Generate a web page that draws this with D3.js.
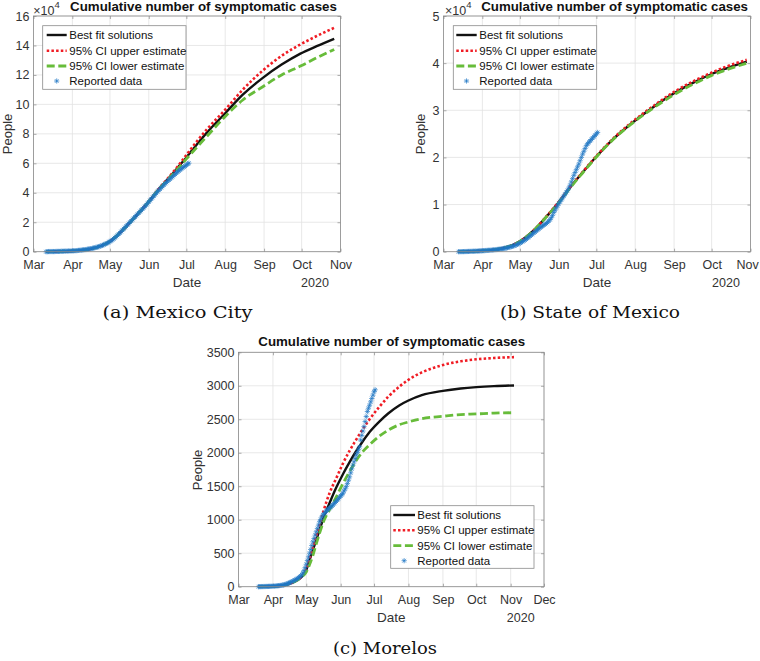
<!DOCTYPE html>
<html><head><meta charset="utf-8">
<script src="https://cdn.jsdelivr.net/npm/d3@7"></script>
<style>body{margin:0;background:#fff}svg{display:block;font-family:"Liberation Sans",Arial,sans-serif}</style>
</head><body>
<svg id="chart" width="760" height="661"></svg>
<script>
// ---------------- DATA ----------------
const chartTitle = "Cumulative number of symptomatic cases";
const monthLabels = ["Mar","Apr","May","Jun","Jul","Aug","Sep","Oct","Nov","Dec"];
const legendLabels = ["Best fit solutions","95% CI upper estimate","95% CI lower estimate","Reported data"];
const yTicksCity = [0,2,4,6,8,10,12,14,16];          // ×10^4
const yTicksState = [0,1,2,3,4,5];                   // ×10^4
const yTicksMorelos = [0,500,1000,1500,2000,2500,3000,3500];
const yearLabel = "2020";

// days counted from 1 March 2020
// (a) Mexico City, values in 10^4 people
const cityFitDay = [10,31,45,53,61,71,82,92,100,108,115,122,130,138,153,167,183,198,213,226,240];
const cityBest   = [0,0.05,0.18,0.37,0.70,1.45,2.45,3.40,4.25,5.00,5.70,6.40,7.25,8.05,9.40,10.66,11.80,12.70,13.45,13.95,14.45];
const cityUpper  = [0,0.05,0.18,0.37,0.70,1.45,2.45,3.40,4.27,5.05,5.78,6.57,7.45,8.27,9.64,11.00,12.30,13.30,14.07,14.64,15.20];
const cityLower  = [0,0.05,0.18,0.37,0.70,1.45,2.45,3.40,4.23,4.95,5.60,6.30,7.05,7.80,9.18,10.30,11.20,12.00,12.60,13.16,13.73];
const cityReportedFirstDay = 10;
const cityReported = [0.00,0.00,0.01,0.01,0.01,0.01,0.01,0.01,0.02,0.02,0.02,0.02,0.03,0.03,0.03,0.04,0.04,0.04,0.05,0.05,0.05,0.06,
 0.06,0.07,0.07,0.08,0.09,0.10,0.11,0.12,0.13,0.14,0.15,0.17,0.18,0.20,0.21,0.23,0.25,0.27,0.29,0.31,0.34,0.37,0.40,0.43,0.47,0.51,0.55,0.59,0.64,
 0.69,0.75,0.81,0.88,0.95,1.03,1.11,1.19,1.28,1.37,1.46,1.55,1.64,1.73,1.82,1.91,2.00,2.09,2.18,2.27,2.36,2.45,2.54,2.63,2.72,2.81,2.90,2.99,3.08,
 3.18,3.28,3.38,3.48,3.58,3.68,3.78,3.88,3.98,4.08,4.17,4.26,4.35,4.44,4.53,4.62,4.70,4.78,4.86,4.94,5.02,5.10,5.18,5.26,5.34,5.42,5.49,5.56,5.63,
 5.70,5.76,5.82,5.88,5.95,6.01];

// (b) State of Mexico, values in 10^4 people
const stateFitDay = [12,31,45,55,61,72,82,92,101,111,122,135,149,167,184,199,214,226,242];
const stateBest   = [0,0.02,0.06,0.14,0.22,0.45,0.740,1.05,1.36,1.68,2.02,2.38,2.70,3.06,3.36,3.58,3.77,3.89,4.03];
const stateUpper  = [0,0.02,0.06,0.14,0.22,0.45,0.745,1.06,1.37,1.69,2.03,2.39,2.72,3.08,3.39,3.61,3.80,3.93,4.07];
const stateLower  = [0,0.02,0.06,0.14,0.22,0.45,0.735,1.04,1.35,1.67,2.01,2.37,2.69,3.04,3.33,3.55,3.74,3.86,4.00];
const stateReportedFirstDay = 12;
const stateReported = [0.000,0.001,0.001,0.002,0.002,0.003,0.004,0.005,0.006,0.007,0.008,0.009,0.010,0.011,0.012,0.013,0.015,0.016,0.018,
 0.020,0.022,0.024,0.026,0.028,0.030,0.032,0.034,0.036,0.039,0.042,0.045,0.048,0.051,0.055,0.059,0.063,0.068,0.073,0.079,0.085,0.091,0.098,
 0.106,0.114,0.123,0.133,0.144,0.156,0.169,0.183,0.198,0.214,0.231,0.249,0.268,0.288,0.309,0.331,0.353,0.375,0.397,0.419,0.441,0.463,0.485,
 0.506,0.526,0.545,0.563,0.581,0.600,0.622,0.648,0.680,0.720,0.770,0.830,0.880,0.930,0.975,1.02,1.06,1.10,1.14,1.18,1.22,1.26,1.30,1.35,1.41,
 1.48,1.55,1.62,1.68,1.74,1.80,1.86,1.93,2.00,2.07,2.13,2.19,2.25,2.29,2.32,2.35,2.38,2.41,2.44,2.47,2.50,2.53];

// (c) Morelos, values in people
const morelosFitDay = [18,31,40,46,52,57,61,64,67,70,73,76,79,82,88,94,100,105,111,118,127,135,145,153,165,184,200,214,230,248];
const morelosBest  = [0,5,20,45,90,150,250,400,550,700,850,1000,1130,1250,1480,1680,1860,2000,2150,2310,2470,2590,2710,2780,2860,2925,2960,2980,2995,3005];
const morelosUpper = [0,5,20,45,90,155,270,420,590,760,930,1100,1260,1400,1620,1840,2030,2170,2330,2500,2690,2840,2990,3090,3200,3310,3365,3395,3415,3428];
const morelosLower = [0,5,20,45,90,145,220,330,470,640,800,950,1060,1150,1340,1540,1720,1860,2000,2120,2250,2340,2420,2460,2510,2545,2570,2580,2592,2598];
const morelosReportedFirstDay = 18;
const morelosReported = [0,1,1,2,2,3,3,4,4,5,6,6,7,8,9,10,12,13,15,17,19,22,25,29,34,39,45,52,60,67,75,83,92,101,110,121,133,146,160,177,
 205,240,285,335,390,445,500,555,615,670,720,770,820,870,920,970,1005,1040,1070,1090,1110,1130,1145,1160,1175,1190,1205,1220,1240,1258,1276,
 1295,1315,1335,1355,1375,1395,1430,1460,1495,1540,1590,1640,1700,1760,1815,1865,1915,1965,2005,2045,2090,2190,2260,2325,2390,2465,2540,2615,
 2665,2710,2760,2810,2860,2910,2940];

const captions = ["(a) Mexico City","(b) State of Mexico","(c) Morelos"];

// ---------------- LAYOUT ----------------
const C = {best:"#111111", upper:"#f01c24", lower:"#67bc3a", data:"#1f77c4", text:"#333333", grid:"#e2e2e2", box:"#8a8a8a"};
const baseDate = Date.UTC(2020,2,1);
const dayToDate = d => new Date(baseDate + d*864e5);

const panels = [
 {fitDay:cityFitDay, best:cityBest, upper:cityUpper, lower:cityLower, repStart:cityReportedFirstDay, rep:cityReported,
  yTicks:yTicksCity, yMax:16, exponent:true, endMonth:"2020-11-01",
  left:33.5, right:340.5, top:16, bottom:251.7, titleX:203.5, titleY:10.5,
  yLabelX:11.5, yLabelY:134, dateY:287, yearX:315, expX:33.3,
  legend:{x:42.7, y:25.7, w:143.3, h:63.6, rows:[35,50.7,66,81], s0:46.7, s1:66.7, tx:69.3},
  caption:captions[0], capX:177.5, capY:318, capW:150},
 {fitDay:stateFitDay, best:stateBest, upper:stateUpper, lower:stateLower, repStart:stateReportedFirstDay, rep:stateReported,
  yTicks:yTicksState, yMax:5, exponent:true, endMonth:"2020-11-01",
  left:443.5, right:750.5, top:16, bottom:251.7, titleX:614.6, titleY:10.5,
  yLabelX:425, yLabelY:134, dateY:287, yearX:726, expX:445,
  legend:{x:453.3, y:25.7, w:143.4, h:63.6, rows:[35,50.7,66,81], s0:456.3, s1:476.7, tx:479.3},
  caption:captions[1], capX:590, capY:318, capW:180},
 {fitDay:morelosFitDay, best:morelosBest, upper:morelosUpper, lower:morelosLower, repStart:morelosReportedFirstDay, rep:morelosReported,
  yTicks:yTicksMorelos, yMax:3500, exponent:false, endMonth:"2020-12-01",
  left:238.5, right:544, top:352.3, bottom:586.7, titleX:391.7, titleY:345.5,
  yLabelX:201.5, yLabelY:470, dateY:622, yearX:520.7,
  legend:{x:390.7, y:505.7, w:143.3, h:62.6, rows:[515,530.3,545.7,560.7], s0:393.3, s1:415, tx:417.3},
  caption:captions[2], capX:385, capY:654, capW:104}
];

const svg = d3.select("#chart");
const W = +svg.attr("width");
const starPath = "M-2.6,0H2.6M0,-2.6V2.6M-1.85,-1.85L1.85,1.85M-1.85,1.85L1.85,-1.85";

panels.forEach(p => {
  const g = svg.append("g");
  const endDate = new Date(p.endMonth + "T00:00:00Z");
  const x = d3.scaleUtc().domain([dayToDate(0), endDate]).range([p.left,p.right]);
  const y = d3.scaleLinear().domain([0,p.yMax]).range([p.bottom,p.top]);
  const months = d3.utcMonth.range(dayToDate(0), d3.utcDay.offset(endDate,1));

  // grid
  g.selectAll(".vg").data(months).join("line").attr("x1",d=>x(d)).attr("x2",d=>x(d))
    .attr("y1",p.top).attr("y2",p.bottom).attr("stroke",C.grid).attr("stroke-width",0.8);
  g.selectAll(".hg").data(p.yTicks).join("line").attr("y1",d=>y(d)).attr("y2",d=>y(d))
    .attr("x1",p.left).attr("x2",p.right).attr("stroke",C.grid).attr("stroke-width",0.8);

  // axes
  const ax = g.append("g").attr("transform",`translate(0,${p.bottom})`)
    .call(d3.axisBottom(x).tickValues(months).tickFormat((d,i)=>monthLabels[i]).tickSize(-3).tickPadding(8.8));
  const ay = g.append("g").attr("transform",`translate(${p.left},0)`)
    .call(d3.axisLeft(y).tickValues(p.yTicks).tickFormat(d=>d).tickSize(-3).tickPadding(4));
  const at = g.append("g").attr("transform",`translate(0,${p.top})`)
    .call(d3.axisTop(x).tickValues(months).tickFormat("").tickSize(-3));
  const ar = g.append("g").attr("transform",`translate(${p.right},0)`)
    .call(d3.axisRight(y).tickValues(p.yTicks).tickFormat("").tickSize(-3));
  [ax,ay,at,ar].forEach(a=>{
    a.select(".domain").remove();
    a.selectAll(".tick line").attr("stroke",C.box).attr("stroke-width",0.7);
    a.selectAll("text").attr("fill",C.text).style("font-size","12.5px").style("font-family","Liberation Sans, Arial, sans-serif");
  });
  // keep the last month label inside the page
  ax.selectAll(".tick text").each(function(d){
    const bb = this.getBBox(); const cx = x(d);
    const over = cx + bb.x + bb.width - (W - 1);
    if (over > 0) d3.select(this).attr("dx", -over);
  });

  // curves
  const line = d3.line().x(d=>x(dayToDate(d[0]))).y(d=>y(d[1])).curve(d3.curveMonotoneX);
  const mk = arr => p.fitDay.map((d,i)=>[d,arr[i]]);
  g.append("path").attr("d",line(mk(p.best))).attr("fill","none").attr("stroke",C.best).attr("stroke-width",2.4);
  g.append("path").attr("d",line(mk(p.upper))).attr("fill","none").attr("stroke",C.upper).attr("stroke-width",2.6).attr("stroke-dasharray","2.5,2.2");
  g.append("path").attr("d",line(mk(p.lower))).attr("fill","none").attr("stroke",C.lower).attr("stroke-width",2.8).attr("stroke-dasharray","8,3.6");

  // reported data
  g.append("g").selectAll("path").data(p.rep).join("path")
    .attr("transform",(v,i)=>`translate(${x(dayToDate(p.repStart+i))},${y(v)})`)
    .attr("d",starPath).attr("fill","none").attr("stroke",C.data).attr("stroke-width",0.7);

  // box
  g.append("rect").attr("x",p.left).attr("y",p.top).attr("width",p.right-p.left).attr("height",p.bottom-p.top)
    .attr("fill","none").attr("stroke",C.box).attr("stroke-width",0.8);

  // title and labels
  g.append("text").attr("x",p.titleX).attr("y",p.titleY).attr("text-anchor","middle")
    .style("font-size","13.3px").style("font-weight","bold").attr("fill","#111").text(chartTitle);
  g.append("text").attr("transform",`translate(${p.yLabelX},${p.yLabelY}) rotate(-90)`).attr("text-anchor","middle")
    .style("font-size","13px").attr("fill",C.text).text("People");
  g.append("text").attr("x",(p.left+p.right)/2).attr("y",p.dateY).attr("text-anchor","middle")
    .style("font-size","13.5px").attr("fill",C.text).text("Date");
  g.append("text").attr("x",p.yearX).attr("y",p.dateY).attr("text-anchor","middle")
    .style("font-size","12.5px").attr("fill",C.text).text(yearLabel);
  if (p.exponent) {
    const t = g.append("text").attr("x",p.expX).attr("y",14.5).style("font-size","12.5px").attr("fill",C.text);
    t.append("tspan").text("×10");
    t.append("tspan").attr("dy",-7).style("font-size","9.5px").text("4");
  }

  // legend
  const L = p.legend;
  const lg = g.append("g");
  lg.append("rect").attr("x",L.x).attr("y",L.y).attr("width",L.w).attr("height",L.h)
    .attr("fill","#fff").attr("stroke",C.box).attr("stroke-width",0.8);
  const styles = [
    {stroke:C.best,w:2.4,dash:null},
    {stroke:C.upper,w:2.6,dash:"2.5,2.2"},
    {stroke:C.lower,w:2.8,dash:"8,3.6"}
  ];
  styles.forEach((s,i)=>{
    lg.append("line").attr("x1",L.s0).attr("x2",L.s1).attr("y1",L.rows[i]).attr("y2",L.rows[i])
      .attr("stroke",s.stroke).attr("stroke-width",s.w).attr("stroke-dasharray",s.dash);
  });
  lg.append("path").attr("transform",`translate(${(L.s0+L.s1)/2},${L.rows[3]})`).attr("d",starPath)
    .attr("fill","none").attr("stroke",C.data).attr("stroke-width",0.7);
  legendLabels.forEach((t,i)=>{
    lg.append("text").attr("x",L.tx).attr("y",L.rows[i]+4).style("font-size","11.5px").attr("fill","#111").text(t);
  });

  // caption
  svg.append("text").attr("x",p.capX).attr("y",p.capY).attr("text-anchor","middle")
    .attr("textLength",p.capW).attr("lengthAdjust","spacingAndGlyphs")
    .style("font-family","DejaVu Serif, serif").style("font-size","17.5px").attr("fill","#111").text(p.caption);
});
</script>
</body></html>
